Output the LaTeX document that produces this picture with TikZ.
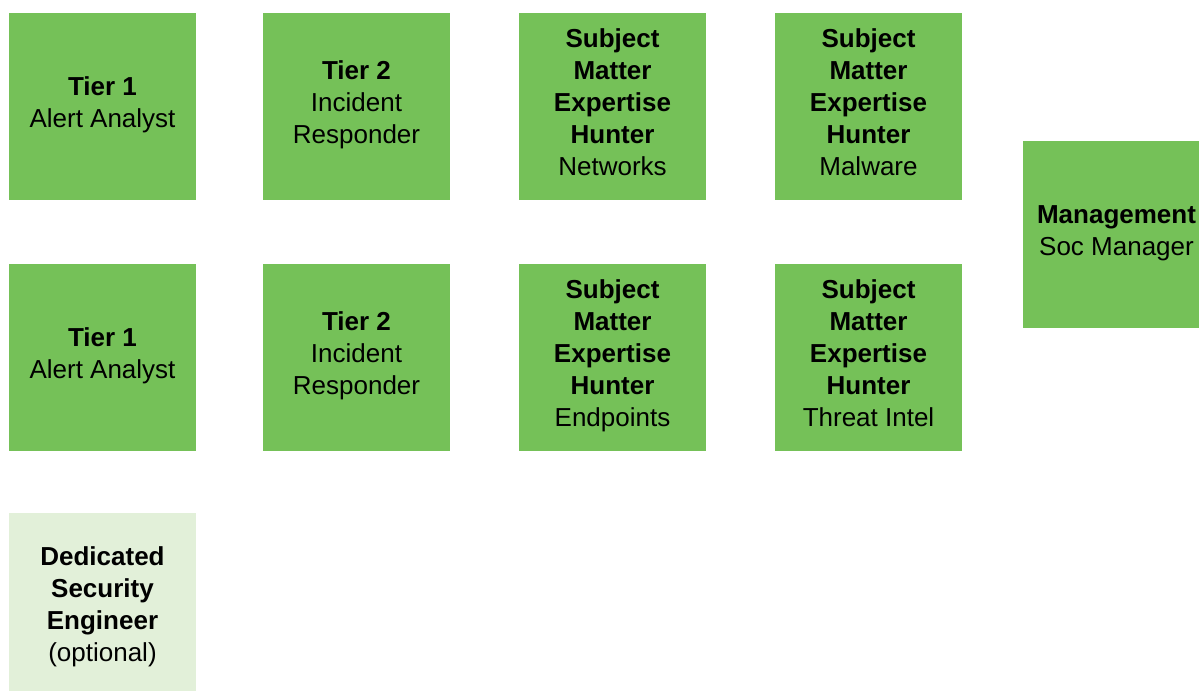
\documentclass[tikz,border=0pt]{standalone}
\usepackage{fontspec}
\setmainfont{Liberation Sans}
\definecolor{rolegreen}{RGB}{117,193,88}
\definecolor{optgreen}{RGB}{226,240,217}
\newcommand{\boxsz}{140.25pt}
\begin{document}
\begin{tikzpicture}[x=0.75pt, y=-0.75pt,
		font=\fontsize{19.5pt}{24pt}\selectfont,
		role/.style={rectangle, fill=rolegreen, inner sep=0pt,
			minimum width=\boxsz, minimum height=\boxsz},
		optrole/.style={role, fill=optgreen},
		txt/.style={align=center, inner sep=0pt}]
			\useasboundingbox (0,0) rectangle (1199,690);
			\clip (0,0) rectangle (1199,690);
			% tier boxes, two rows
			\foreach \y [count=\r] in {106.5,357.5} {
				\node[role] (tierone\r) at (102.5,\y) {};
				\node[txt] (tieronetxt\r) at ([yshift=1.5pt]tierone\r.center) {\textbf{Tier 1}\\Alert Analyst};
				\node[role] (tiertwo\r) at (356.5,\y) {};
				\node[txt] (tiertwotxt\r) at ([yshift=1.5pt]tiertwo\r.center) {\textbf{Tier 2}\\Incident\\Responder};
			};
			% subject matter hunters
			\node[role] (smenet) at (612.5,106.5) {};
			\node[txt] at ([yshift=3pt]smenet.center) {\textbf{Subject}\\\textbf{Matter}\\\textbf{Expertise}\\\textbf{Hunter}\\Networks};
			\node[role] (smemal) at (868.5,106.5) {};
			\node[txt] at ([yshift=3pt]smemal.center) {\textbf{Subject}\\\textbf{Matter}\\\textbf{Expertise}\\\textbf{Hunter}\\Malware};
			\node[role] (smeend) at (612.5,357.5) {};
			\node[txt] at ([yshift=1.25pt]smeend.center) {\textbf{Subject}\\\textbf{Matter}\\\textbf{Expertise}\\\textbf{Hunter}\\Endpoints};
			\node[role] (smeti) at (868.5,357.5) {};
			\node[txt] at ([yshift=3.5pt]smeti.center) {\textbf{Subject}\\\textbf{Matter}\\\textbf{Expertise}\\\textbf{Hunter}\\Threat Intel};
			
			\node[role] (mgmt) at (1116.5,234.5) {};
			\node[txt] at ([yshift=0.75pt]mgmt.center) {\textbf{Management}\\Soc Manager};
			\node[optrole] (engineer) at (102.5,606.5) {};
			\node[txt] at (engineer.center) {\textbf{Dedicated}\\\textbf{Security}\\\textbf{Engineer}\\(optional)};
		\end{tikzpicture}
\end{document}
